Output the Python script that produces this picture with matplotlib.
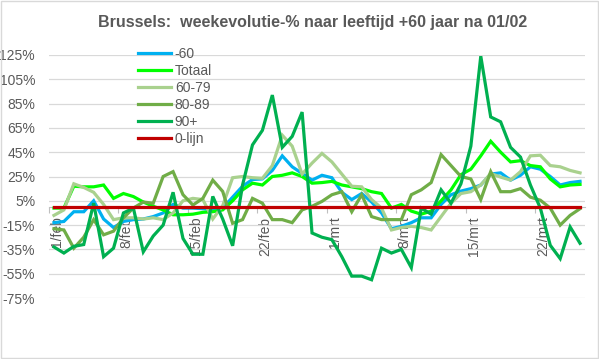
import matplotlib
matplotlib.use("Agg")
import matplotlib.pyplot as plt
import matplotlib.transforms as mtransforms
from matplotlib.patches import Rectangle

# days 1/feb .. 26/mrt
days = list(range(54))
tick_days = [0, 7, 14, 21, 28, 35, 42, 49]
tick_labels = ["1/feb", "8/feb", "15/feb", "22/feb", "1/mrt", "8/mrt", "15/mrt", "22/mrt"]
y_ticks = [-75, -55, -35, -15, 5, 25, 45, 65, 85, 105, 125]

min60 = [-13, -12, -4, -4, 5, -10, -17, -12, -10.5, -10, -8, -5, 2, -1,
         -1, -1.5, -2.5, -1, 8, 17, 22.5, 23, 30, 42, 33, 27.5, 22, 26,
         24, 12, 6, 11, 4, -5, -18, -16, -13, -9, -9, 2, 10, 13, 15, 18,
         27, 28, 22, 26, 33, 31, 25, 18, 20, 21]
totaal = [-1, -1, 17, 16.5, 16.5, 18, 7, 11, 8.5, 4, 0.5, -2.5, -6.5, -6.5,
          -6, -4.5, -4, -2.5, 5, 14, 19.5, 18, 25, 26, 28, 25, 19.5, 20,
          21, 18, 16.5, 15, 12.5, 11, -1, 2, -3.5, -6, -3.5, 5, 14, 26.5, 31, 42,
          54, 45, 37, 38, 34, 33, 23, 16.5, 18, 18.5]
age60_79 = [-7, -2.5, 19, 16, 12, 2, -10.5, -9, -9, -10, -9, -10.5, -5, 5,
            7, 6, -10, 1, 24, 25, 24, 23.5, 34, 59, 50, 27, 36, 44,
            37, 27, 17, 16.5, 6, -1, -19, -17, -16, -17, -19, -8, 3, 11, 12.5, 18,
            27.5, 24.5, 22, 29, 42, 42.5, 34, 33, 30, 28]
age80_89 = [-18, -19, -34, -25, -10.5, -23, -20, -9, -1, 4, 3, 25, 29, 10,
            1.5, 7, 22, 12.7, -13.5, -10.5, 7, 3, -10.5, -10.5, -13, -2.5, 0.5, 4.5,
            10, 12.5, -4, 10, -8, -10.5, -10.5, -10.5, 10, 14, 20, 43, 34, 25, 23, 6,
            29, 12.5, 12.5, 15, 8, 5.5, -1, -15, -7, -1.5]
age90 = [-33, -38, -32.5, -31, 3, -41, -34, -5, -1, -37, -24, -15, 12, -26,
         -39, -39, 8.6, -10, -32, 18, 51, 63, 92, 49, 58, 78, -21.5, -25,
         -27, -41, -57, -57, -60, -34, -38, -35, -50, -1, -6, 14, 3, 19, 50, 124,
         74, 70, 49, 41, 18, -1, -31.6, -42.6, -16.5, -30]
nul = [0] * 54

series = [
    ("-60", min60, "#00B0F0"),
    ("Totaal", totaal, "#00FF00"),
    ("60-79", age60_79, "#A9D18E"),
    ("80-89", age80_89, "#70AD47"),
    ("90+", age90, "#00B050"),
    ("0-lijn", nul, "#C00000"),
]

plt.rcParams["font.family"] = ["Liberation Sans", "DejaVu Sans"]

fig = plt.figure(figsize=(5.99, 3.59), dpi=100)
fig.patches.append(Rectangle((0.001, 0.002), 0.997, 0.995, transform=fig.transFigure,
                             fill=False, edgecolor="#D9D9D9", lw=1))
ax = fig.add_axes([49 / 599, 61 / 359, 536 / 599, 243 / 359])

for name, vals, col in series:
    ax.plot(days, vals, color=col, lw=2.3, label=name, solid_joinstyle="miter", zorder=3)

ax.set_xlim(-0.5, 53.5)
ax.set_ylim(-75, 125)
ax.set_yticks(y_ticks)
ax.set_yticklabels([f"{v}%" for v in y_ticks])
ax.yaxis.grid(True, color="#D9D9D9", lw=0.9)
ax.set_axisbelow(True)
ax.tick_params(axis="y", length=0, pad=10, labelsize=10, labelcolor="#595959")

for s in ["top", "right", "left"]:
    ax.spines[s].set_visible(False)
# x axis crosses at 0, hidden under the red 0-lijn
ax.spines["bottom"].set_position(("data", 0))
ax.spines["bottom"].set_color("#BFBFBF")
ax.spines["bottom"].set_zorder(1)

ax.set_xticks([d - 0.5 for d in tick_days])
ax.set_xticklabels([])
ax.tick_params(axis="x", which="major", length=4, color="#BFBFBF", direction="out")
ax.set_xticks(tick_days, minor=True)
ax.set_xticklabels(tick_labels, minor=True, rotation=90)
ax.tick_params(axis="x", which="minor", length=0, pad=7, labelsize=10, labelcolor="#595959")
shift = mtransforms.ScaledTranslation(3 / 100, 0, fig.dpi_scale_trans)
for lab in ax.get_xticklabels(minor=True):
    lab.set_transform(lab.get_transform() + shift)

ax.legend(loc="upper left", bbox_to_anchor=(138 / 599, 1 - 47 / 359),
          bbox_transform=fig.transFigure, frameon=False, fontsize=10,
          handlelength=2.4, handletextpad=0.25, labelspacing=0.22,
          borderpad=0, borderaxespad=0, labelcolor="#595959")

fig.text(313 / 599, 1 - 22 / 359, "Brussels:  weekevolutie-% naar leeftijd +60 jaar na 01/02",
         ha="center", va="center", fontsize=11.5, fontweight="bold", color="#595959")

fig.savefig("out.png", dpi=100)
